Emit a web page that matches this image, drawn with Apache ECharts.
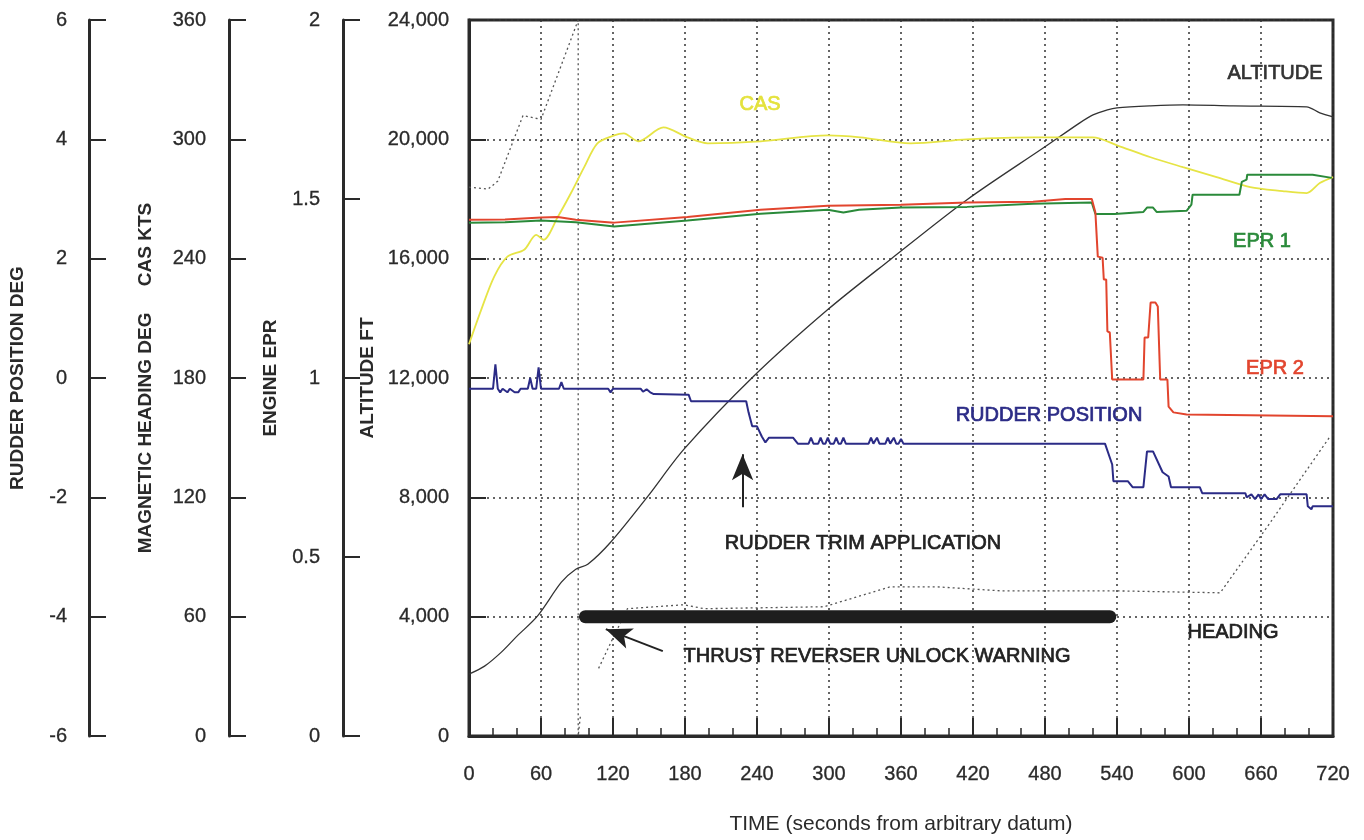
<!DOCTYPE html>
<html><head><meta charset="utf-8">
<script src="https://cdn.jsdelivr.net/npm/echarts@6/dist/echarts.min.js"></script>
<style>html,body{margin:0;padding:0;background:#fff}#c{width:1364px;height:840px}</style>
</head><body><div id="c"></div>
<script>
// time in seconds from arbitrary datum
const altitudeFt = [[0,2075],[13,2343],[27,2812],[40,3347],[57,4017],[77,5155],[89,5590],[99,5757],[118,6494],[149,8033],[179,9607],[237,12050],[299,14293],[351,15967],[415,17975],[480,19750],[509,20553],[520,20820],[532,20988],[540,21055],[568,21121],[595,21155],[637,21121],[698,21090],[709,20887],[720,20750]];
const casKts = [[0,197],[10,214],[21,231],[32,241],[46,244.5],[56,252],[62,249.5],[74,261],[85,273],[96,286],[107,298],[121,302],[129,303],[141,299],[162,306],[182,301],[199,298],[243,299],[299,302],[326,301],[368,298],[415,300],[470,301],[520,301],[540,297],[568,291],[595,286],[623,281],[651,276],[678,274],[698,273],[709,278],[720,281]];
const headingDeg = [[0,276],[16,275],[24,279],[45,312],[60,310],[91,360],[91,0],[93,11],[100,'-'],[108,34],[119,48],[132,64],[179,66],[196,64],[296,65],[351,75],[390,75],[443,73],[537,73],[626,72],[665,105],[718,151]];
const epr1 = [[0,1.434],[30,1.435],[60,1.44],[89,1.435],[121,1.423],[182,1.44],[243,1.459],[299,1.47],[312,1.462],[325,1.47],[360,1.476],[415,1.478],[470,1.487],[519,1.49],[522,1.458],[538,1.458],[562,1.464],[565,1.476],[570,1.476],[573,1.464],[598,1.467],[602,1.484],[603,1.512],[642,1.512],[644,1.548],[648,1.554],[648.5,1.568],[703,1.568],[719,1.559]];
const epr2 = [[0,1.442],[30,1.443],[60,1.448],[74,1.45],[89,1.442],[121,1.434],[182,1.45],[243,1.47],[299,1.481],[360,1.484],[415,1.49],[470,1.492],[497,1.5],[519,1.5],[522,1.462],[524,1.339],[528,1.336],[529,1.275],[531,1.275],[532,1.13],[534,1.127],[536,0.996],[562,0.996],[563,1.113],[566,1.113],[568,1.211],[572,1.211],[574,1.2],[576,0.996],[582,0.996],[583,0.92],[587,0.904],[598,0.898],[720,0.893]];
const rudderDeg = [[0,-0.18],[20,-0.18],[22,0.23],[24,-0.18],[26,-0.24],[28,-0.18],[32,-0.24],[34,-0.18],[38,-0.24],[41,-0.24],[43,-0.18],[49,-0.18],[51,0.0],[53,-0.18],[56,-0.18],[58,0.18],[60,-0.18],[75,-0.18],[77,-0.07],[79,-0.18],[116,-0.18],[118,-0.24],[120,-0.18],[143,-0.18],[145,-0.23],[148,-0.19],[151,-0.24],[154,-0.27],[183,-0.28],[185,-0.39],[231,-0.39],[233,-0.58],[236,-0.81],[240,-0.81],[244,-0.98],[247,-1.08],[250,-1.0],[270,-1.0],[274,-1.1],[283,-1.1],[285,-1.0],[287,-1.1],[291,-1.1],[293,-1.0],[295,-1.1],[297,-1.1],[299,-1.0],[301,-1.1],[304,-1.1],[306,-1.0],[308,-1.1],[310,-1.1],[312,-1.0],[314,-1.1],[333,-1.1],[335,-1.0],[337,-1.1],[338,-1.1],[340,-1.0],[342,-1.1],[347,-1.1],[349,-1.0],[351,-1.1],[352,-1.1],[354,-1.0],[356,-1.1],[358,-1.1],[360,-1.02],[362,-1.1],[530,-1.1],[536,-1.45],[537,-1.73],[549,-1.73],[553,-1.83],[562,-1.83],[565,-1.23],[570,-1.23],[578,-1.58],[583,-1.65],[585,-1.83],[609,-1.83],[611,-1.93],[647,-1.93],[648,-2.0],[652,-1.95],[655,-2.03],[658,-1.95],[660,-2.03],[663,-1.95],[666,-2.03],[673,-2.03],[676,-1.95],[698,-1.95],[699,-2.15],[702,-2.2],[703,-2.15],[720,-2.15]];
const thrustReverserWarning = [[97,4000],[534,4000]];
const rudderTrimArrow = [[228,7665],[228,9440]];
const thrustArrow = [[161.5,2845],[114,3582]];
const timeTicks = [0,60,120,180,240,300,360,420,480,540,600,660,720];

const FONT = '"Liberation Sans", Arial, sans-serif';
const AX = '#2a2a2a';
const chart = echarts.init(document.getElementById('c'), null, {renderer:'canvas'});

function leftAxis(name, min, max, interval, offset, nameGap, margin, fmt){
  return {
    type:'value', position:'left', offset:offset, min:min, max:max, interval:interval,
    name:name, nameLocation:'middle', nameRotate:90, nameGap:nameGap,
    nameTextStyle:{fontFamily:FONT, fontWeight:'bold', fontSize:19, color:'#2a2a2a'},
    axisLine:{show:true, onZero:false, lineStyle:{color:AX, width:3}},
    axisTick:{show:true, inside:true, length:17, lineStyle:{color:AX, width:2}},
    axisLabel:{show:true, margin:margin, fontFamily:FONT, fontSize:20, color:'#2a2a2a', formatter:fmt,
      textBorderColor:'#2a2a2a', textBorderWidth:0.3},
    splitLine:{show:false}
  };
}

const textEl = (txt, x, y, color) => ({
  type:'text', x:x, y:y, z:100,
  style:{text:txt, fill:color, font:'20px ' + FONT, align:'center', verticalAlign:'middle', textAlign:'center', textVerticalAlign:'middle', stroke:color, lineWidth:0.7}
});

const option = {
  animation:false,
  backgroundColor:'#fff',
  grid:{left:468, top:20, right:31, bottom:103, show:true, borderColor:'#2a2a2a', borderWidth:3, backgroundColor:'transparent'},
  xAxis:{
    type:'value', min:0, max:720, interval:60,
    name:'TIME (seconds from arbitrary datum)', nameLocation:'middle', nameGap:78,
    nameTextStyle:{fontFamily:FONT, fontSize:21, color:'#2a2a2a'},
    axisLine:{show:true, onZero:false, lineStyle:{color:AX, width:3}},
    axisTick:{show:true, inside:true, length:18, lineStyle:{color:AX, width:2}},
    minorTick:{show:true, splitNumber:3, length:8, lineStyle:{color:AX, width:1.5}},
    axisLabel:{margin:28, fontFamily:FONT, fontSize:20, color:'#2a2a2a', formatter:v => timeTicks.includes(v) ? String(v) : '',
      textBorderColor:'#2a2a2a', textBorderWidth:0.3},
    splitLine:{show:true, lineStyle:{color:'#333', width:1.5, type:[2,4]}}
  },
  yAxis:[
    leftAxis('RUDDER POSITION DEG', -6, 6, 2, 380, 62, 22),
    leftAxis('MAGNETIC HEADING DEG     CAS KTS', 0, 360, 60, 240, 74, 23),
    leftAxis('ENGINE EPR', 0, 2, 0.5, 126, 63, 23),
    Object.assign(leftAxis('ALTITUDE FT', 0, 24000, 4000, 0, 82, 20, v => v.toLocaleString('en-US')), {
      splitLine:{show:true, lineStyle:{color:'#333', width:1.5, type:[2,4]}}
    })
  ],
  series:[
    {name:'HEADING', type:'line', yAxisIndex:1, data:headingDeg, showSymbol:false, symbol:'none', connectNulls:false,
      lineStyle:{color:'#555', width:1.3, type:[2,3]}},
    {name:'ALTITUDE', type:'line', yAxisIndex:3, data:altitudeFt, showSymbol:false, symbol:'none', smooth:0.3,
      lineStyle:{color:'#333', width:1.3}},
    {name:'CAS', type:'line', yAxisIndex:1, data:casKts, showSymbol:false, symbol:'none', smooth:0.3,
      lineStyle:{color:'#e6e445', width:1.8}},
    {name:'EPR 1', type:'line', yAxisIndex:2, data:epr1, showSymbol:false, symbol:'none',
      lineStyle:{color:'#2a8a3a', width:2}},
    {name:'EPR 2', type:'line', yAxisIndex:2, data:epr2, showSymbol:false, symbol:'none',
      lineStyle:{color:'#e2452e', width:2}},
    {name:'RUDDER POSITION', type:'line', yAxisIndex:0, data:rudderDeg, showSymbol:false, symbol:'none',
      lineStyle:{color:'#2b2b86', width:2}},
    {name:'THRUST REVERSER', type:'line', yAxisIndex:3, data:thrustReverserWarning, showSymbol:false, symbol:'none', z:5,
      lineStyle:{color:'#1e1e1e', width:13, cap:'round'},
      markLine:{silent:true, symbol:['none','arrow'], symbolSize:[16,26], label:{show:false},
        lineStyle:{color:'#222', width:2, type:'solid'},
        data:[
          [{coord:rudderTrimArrow[0]},{coord:rudderTrimArrow[1]}],
          [{coord:thrustArrow[0]},{coord:thrustArrow[1]}]
        ]}
    }
  ],
  graphic:[
    textEl('CAS', 760, 104, '#e4e23c'),
    textEl('ALTITUDE', 1275, 73, '#333'),
    textEl('EPR 1', 1262, 241, '#2a8a3a'),
    textEl('EPR 2', 1275, 368, '#e2452e'),
    textEl('RUDDER POSITION', 1049, 415, '#2b2b86'),
    textEl('RUDDER TRIM APPLICATION', 863, 543, '#222'),
    textEl('HEADING', 1233, 632, '#222'),
    textEl('THRUST REVERSER UNLOCK WARNING', 877, 656, '#222')
  ]
};
chart.setOption(option);
</script></body></html>
